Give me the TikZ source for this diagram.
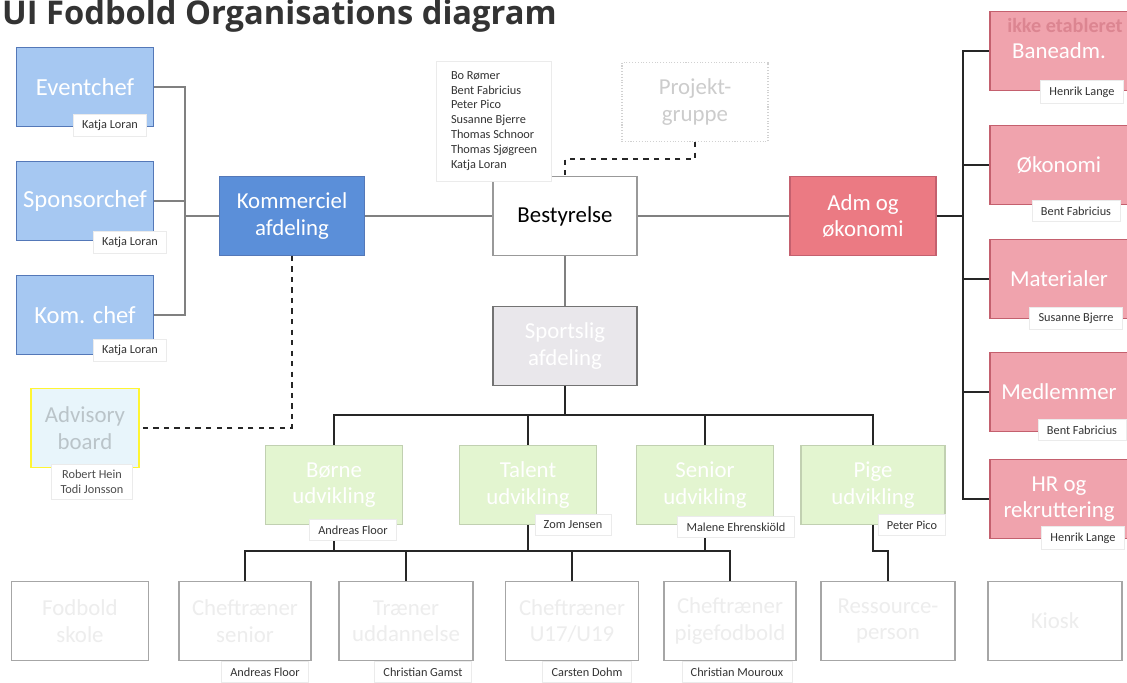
\documentclass[tikz,border=0pt]{standalone}
\usepackage{fontspec}
\setmainfont{Carlito}
\newfontfamily\titlefont{Open Sans}
\definecolor{blueFill}{HTML}{A6C8F2}
\definecolor{blueLine}{HTML}{5478B8}
\definecolor{blueDark}{HTML}{5B8FD9}
\definecolor{advFill}{HTML}{E8F5FB}
\definecolor{pinkFill}{HTML}{F0A3AD}
\definecolor{pinkLine}{HTML}{C4606E}
\definecolor{admFill}{HTML}{EB7A83}
\definecolor{greenFill}{HTML}{E3F5D0}
\definecolor{sportFill}{HTML}{E9E7EB}
\begin{document}
\begin{tikzpicture}[x=0.02cm,y=-0.02cm,
    box/.style={draw,line width=0.6pt,minimum width=2.74cm,minimum height=1.57cm,
      align=center,font=\fontsize{13}{15}\selectfont,text=white},
    bluebox/.style={box,fill=blueFill,draw=blueLine,font=\fontsize{14}{16}\selectfont},
    pinkbox/.style={box,fill=pinkFill,draw=pinkLine,minimum width=2.76cm},
    greenbox/.style={box,fill=greenFill,draw=greenFill!85!black,text=white},
    greybox/.style={box,fill=white,draw=black!35,text=black!7},
    person/.style={fill=white,draw=black!8,font=\fontsize{7}{8.5}\selectfont,
      text=black!80,minimum height=0.42cm,inner xsep=5pt,align=center},
    link/.style={draw=black!50,line width=0.7pt},
    darklink/.style={draw=black!85,line width=0.9pt}]
  \useasboundingbox (0,0) rectangle (1127,683);
  \node[anchor=base west,text=black!80,
    font=\titlefont\bfseries\fontsize{18.6}{22}\selectfont] (title) at (-4,24)
    {UI Fodbold Organisations diagram};

  \node[bluebox] (event) at (85,87) {Eventchef};
  \node[bluebox] (sponsor) at (85,201) {Sponsorchef};
  \node[bluebox] (komchef) at (85,315) {Kom. chef};
  \node[bluebox,fill=blueDark,minimum width=2.9cm,font=\fontsize{13}{15}\selectfont]
    (kom) at (292,216) {Kommerciel\\afdeling};
  \node[box,fill=advFill,draw=yellow!80!white,text=advFill!80!black,
    minimum width=2.16cm] (advisory) at (85,428) {Advisory\\board};

  \node[box,fill=white,draw=black!40,text=black,minimum width=2.88cm] (best) at (565,216) {Bestyrelse};
  \node[greybox,draw=black!18,densely dotted,text=black!20,minimum width=2.92cm,
    minimum height=1.58cm] (proj) at (695,102) {Projekt-\\gruppe};
  \node[box,fill=sportFill,draw=black!55,minimum width=2.88cm] (sport) at (565,346) {Sportslig\\afdeling};

  \node[greenbox] (born) at (334,485) {Børne\\udvikling};
  \node[greenbox] (talent) at (528,485) {Talent\\udvikling};
  \node[greenbox] (senior) at (705,485) {Senior\\udvikling};
  \node[greenbox,minimum width=2.88cm] (pige) at (873,485) {Pige\\udvikling};

  \node[greybox] (b1) at (80,621) {Fodbold\\skole};
  \node[greybox,minimum width=2.64cm] (b2) at (245,621) {Cheftræner\\senior};
  \node[greybox,minimum width=2.68cm] (b3) at (406,621) {Træner\\uddannelse};
  \node[greybox,minimum width=2.66cm] (b4) at (572,621) {Cheftræner\\U17/U19};
  \node[greybox,minimum width=2.64cm] (b5) at (730,621) {Cheftræner\\pigefodbold};
  \node[greybox,minimum width=2.68cm] (b6) at (888,621) {Ressource-\\person};
  \node[greybox,minimum width=2.68cm] (b7) at (1055,621) {Kiosk};

  \node[box,fill=admFill,draw=pinkLine,minimum width=2.92cm] (adm) at (863,216) {Adm og\\økonomi};
  \node[pinkbox] (bane) at (1059,51) {Baneadm.};
  \node[pinkbox] (okon) at (1059,165) {Økonomi};
  \node[pinkbox] (mat) at (1059,279) {Materialer};
  \node[pinkbox] (medl) at (1059,392) {Medlemmer};
  \node[pinkbox] (hr) at (1059,499) {HR og\\rekruttering};
  \node[anchor=east,text=pinkLine!45!pinkFill,font=\bfseries\fontsize{11.5}{13}\selectfont,
    inner sep=0pt] (ikke) at (1123,25) {ikke etableret};

  \coordinate (bl) at (185,216);
  \draw[link] (event.east) -| (bl);
  \draw[link] (komchef.east) -| (bl);
  \draw[link] (sponsor.east) -- (sponsor.east -| bl);
  \draw[link] (bl) -- (kom.west);
  \draw[link] (kom) -- (best);
  \draw[link] (best) -- (adm);
  \draw[link] (best) -- (sport);
  \draw[darklink,dashed] (kom.south) |- (advisory.east);
  \coordinate (pj) at (0,159);
  \draw[darklink,dashed] (proj.south) -- (proj.south |- pj) -| (best.north);

  \coordinate (gbus) at (565,415);
  \draw[darklink] (sport.south) -- (gbus);
  \foreach \g in {born,talent,senior,pige}
    \draw[darklink] (gbus) -| (\g.north);

  \coordinate (bbus) at (0,551);
  \draw[darklink] (b2.north |- bbus) -- (b5.north |- bbus);
  \foreach \g/\b in {born/b2,born/b3,talent/b4,senior/b5,pige/b6}
    \draw[darklink] (\g.south) -- (\g.south |- bbus) -| (\b.north);

  \coordinate (rb) at (963,216);
  \draw[darklink] (adm) -- (rb);
  \foreach \r in {bane,okon,mat,medl,hr}
    \draw[darklink] (rb) |- (\r.west);

  \node[person] (n_event) at (110,125) {Katja Loran};
  \node[person] (n_sponsor) at (130,242) {Katja Loran};
  \node[person] (n_komchef) at (130,350) {Katja Loran};
  \node[person,text=black!70] (n_adv) at (92,482) {Robert Hein\\Todi Jonsson};
  \node[person,align=left,minimum width=2.3cm,minimum height=2.4cm,
    font=\fontsize{7}{8.5}\selectfont] (names) at (494,121)
    {Bo Rømer\\Bent Fabricius\\Peter Pico\\Susanne Bjerre\\Thomas Schnoor\\Thomas Sjøgreen\\Katja Loran};
  \node[person] (n_born) at (353,530) {Andreas Floor};
  \node[person] (n_talent) at (573,525) {Zom Jensen};
  \node[person] (n_senior) at (736,527) {Malene Ehrenskiöld};
  \node[person] (n_pige) at (912,525) {Peter Pico};
  \node[person] (n_b2) at (265,672) {Andreas Floor};
  \node[person] (n_b3) at (423,672) {Christian Gamst};
  \node[person] (n_b4) at (587,672) {Carsten Dohm};
  \node[person] (n_b5) at (737,672) {Christian Mouroux};
  \node[person] (n_bane) at (1082,92) {Henrik Lange};
  \node[person] (n_okon) at (1076,211) {Bent Fabricius};
  \node[person] (n_mat) at (1076,318) {Susanne Bjerre};
  \node[person] (n_medl) at (1082,430) {Bent Fabricius};
  \node[person] (n_hr) at (1083,538) {Henrik Lange};
\end{tikzpicture}
\end{document}
